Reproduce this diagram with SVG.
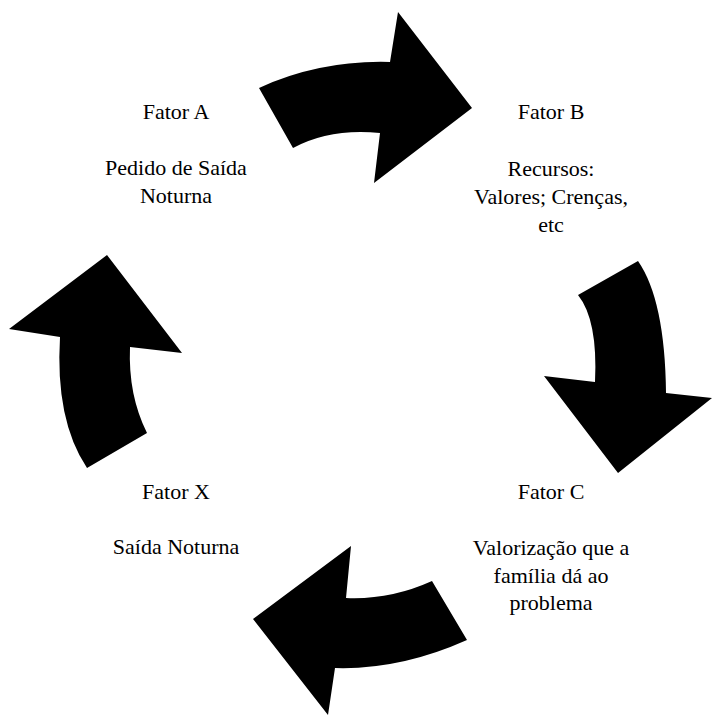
<svg xmlns="http://www.w3.org/2000/svg" width="712" height="716" viewBox="0 0 712 716">
<style>
.arr{fill:#000;stroke:none}
.t text{font-size:22px;fill:#000;text-anchor:middle}
</style>
<rect width="712" height="716" fill="#fff"/>
<g id="connectors">
<path class="arr" d="M259,88 Q320,60 390,62 L398,12 L472,108 L374,183 L380,133 Q330,128 293,148 Z"/>
<path class="arr" d="M638,261 Q665,300 666,393 L712,398 L618,473 L544,376 L595,382 Q598,320 578,295 Z"/>
<path class="arr" d="M467,640 Q400,670 335,668 L328,715 L253,619 L351,546 L346,598 Q390,600 432,581 Z"/>
<path class="arr" d="M87,468 Q55,420 60,337 L9,329 L107,255 L182,353 L130,347 Q128,395 147,433 Z"/>
</g>
<g class="t" font-family="Liberation Serif, Times New Roman, serif">
<g id="fatorA"><text x="176" y="119">Fator A</text><text x="176" y="175">Pedido de Saída</text><text x="176" y="203">Noturna</text></g>
<g id="fatorB"><text x="551" y="119">Fator B</text><text x="551" y="176">Recursos:</text><text x="551" y="204">Valores; Crenças,</text><text x="551" y="232">etc</text></g>
<g id="fatorC"><text x="551" y="499">Fator C</text><text x="551" y="555">Valorização que a</text><text x="551" y="583">família dá ao</text><text x="551" y="610">problema</text></g>
<g id="fatorX"><text x="176" y="499">Fator X</text><text x="176" y="554">Saída Noturna</text></g>
</g>
</svg>
